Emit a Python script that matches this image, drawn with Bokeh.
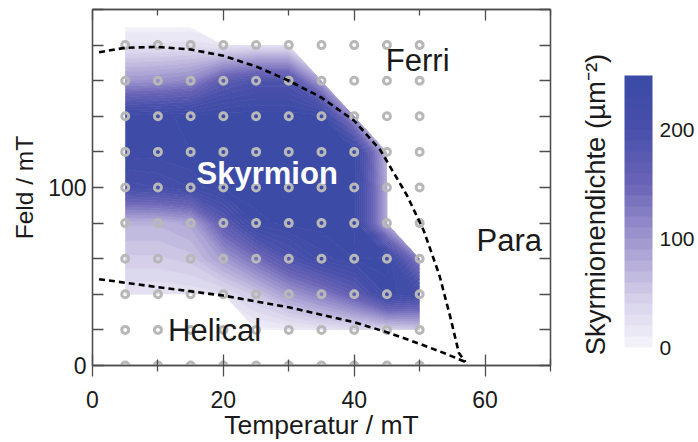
import numpy as np
from bokeh.plotting import figure
from bokeh.layouts import row
from bokeh.models import (Range1d, LinearAxis, FixedTicker, ColorBar,
                          LinearColorMapper, Label, ColumnDataSource)
from bokeh.core.properties import value
from bokeh.embed import file_html
from bokeh.resources import INLINE

N = np.nan

# ---------------- data ----------------
TEMPS = [5, 10, 15, 20, 25, 30, 35, 40, 45, 50]
GRID_FIELDS = [0, 20, 40, 60, 80, 100, 120, 140, 160, 180, 190]
# skyrmion density (µm^-2), rows = GRID_FIELDS, cols = TEMPS
DENSITY = [
    [N, N, N, N, N, N, N, N, N, N],                              # 0
    [N, N, N, N, 5, 10, 20, 30, 40, 50],                         # 20
    [20, 20, 22, 28, 55, 95, 125, 165, 235, 220],                # 40
    [48, 48, 55, 95, 140, 190, 225, 240, 245, 120],              # 60
    [72, 72, 85, 170, 235, 245, 245, 245, 80, N],                # 80
    [205, 210, 220, 245, 248, 248, 248, 245, 80, N],             # 100
    [235, 235, 240, 248, 248, 248, 248, 245, 70, N],             # 120
    [235, 238, 242, 248, 248, 248, 245, 100, N, N],              # 140
    [100, 105, 115, 170, 190, 190, 90, N, N, N],                 # 160
    [22, 22, 25, 20, 25, 25, N, N, N, N],                        # 180
    [6, 6, 6, N, N, N, N, N, N, N],                              # 190
]
MEAS_FIELDS = [0, 20, 40, 60, 80, 100, 120, 140, 160, 180]

UPPER_T = [1, 5, 10, 15, 20, 25, 30, 35, 40, 44, 48, 50.6, 53, 54.7, 56, 57]
UPPER_B = [176, 178.5, 179, 177.5, 174, 168, 160, 150.5, 137.5, 121, 96, 76, 51, 27, 7, 2]
LOWER_T = [1, 10, 20, 30, 40, 45, 50, 54, 57]
LOWER_B = [48.5, 44, 39.3, 32.7, 24.3, 18.7, 12.2, 6.6, 2]

REGION_NAMES = ["Ferri", "Para", "Helical"]
REGION_T = [49.7, 63.7, 18.65]
REGION_B = [171.5, 70.5, 19.9]
SKX_NAME = ["Skyrmion"]
SKX_T = [26.7]
SKX_B = [108.0]

X_MAJOR = [0, 20, 40, 60]
X_MINOR = [10, 30, 50, 70]
Y_MAJOR = [0, 100]
Y_MINOR = [20, 40, 60, 80, 120, 140, 160, 180, 200]
CB_TICKS = [0, 100, 200]
LEVELS = list(range(0, 251, 10))

# ---------------- colours ----------------
ANCHOR_V = [0, 50, 100, 150, 200, 250]
ANCHOR_C = ["#f6f5fb", "#d1cbe7", "#9e96ce", "#6b64b7", "#4850aa", "#3b4aa6"]


def _rgb(h):
    return np.array([int(h[i:i + 2], 16) for i in (1, 3, 5)], dtype=float)


def _interp(v):
    cs = np.array([_rgb(c) for c in ANCHOR_C])
    r = [np.interp(v, ANCHOR_V, cs[:, k]) for k in range(3)]
    return "#%02x%02x%02x" % tuple(int(round(c)) for c in r)


PALETTE = [_interp(l + 5) for l in LEVELS[:-1]]
LINE_COLORS = [_interp(l) for l in LEVELS]

FONT = "Liberation Sans"
AX = "#4d4d4d"
TXT = "#1a1a1a"

p = figure(width=560, height=442, x_range=Range1d(0, 70), y_range=Range1d(0, 200),
           x_axis_type=None, y_axis_type=None, output_backend="svg",
           toolbar_location=None, min_border_left=92, min_border_right=10,
           min_border_top=9, min_border_bottom=77)
p.outline_line_color = AX
p.outline_line_width = 1.3
p.background_fill_color = "white"


def style_axis(a):
    a.axis_line_color = AX
    a.axis_line_width = 1.3
    a.major_tick_line_color = AX
    a.minor_tick_line_color = AX
    a.major_tick_line_width = 1.3
    a.minor_tick_line_width = 1.3
    a.major_label_text_font = FONT
    a.major_label_text_color = TXT
    a.axis_label_text_font = FONT
    a.axis_label_text_color = TXT
    a.axis_label_text_font_style = "normal"


xb = LinearAxis(ticker=FixedTicker(ticks=X_MAJOR, minor_ticks=X_MINOR),
                major_tick_in=11, major_tick_out=11, minor_tick_in=6, minor_tick_out=6,
                major_label_standoff=14, axis_label="Temperatur / mT",
                axis_label_standoff=-1)
style_axis(xb)
xb.major_label_text_font_size = "23px"
xb.axis_label_text_font_size = "26.5px"
p.add_layout(xb, "below")

xt = LinearAxis(ticker=FixedTicker(ticks=X_MAJOR, minor_ticks=X_MINOR),
                major_tick_in=11, major_tick_out=0, minor_tick_in=6, minor_tick_out=0,
                major_label_standoff=0)
style_axis(xt)
xt.major_label_text_font_size = "1px"
xt.major_label_text_color = None
p.add_layout(xt, "above")

yl = LinearAxis(ticker=FixedTicker(ticks=Y_MAJOR, minor_ticks=Y_MINOR),
                major_tick_in=11, major_tick_out=0, minor_tick_in=11, minor_tick_out=0,
                major_label_standoff=6, axis_label="Feld / mT", axis_label_standoff=7)
style_axis(yl)
yl.major_label_text_font_size = "23px"
yl.axis_label_text_font_size = "24.5px"
p.add_layout(yl, "left")

yr = LinearAxis(ticker=FixedTicker(ticks=Y_MAJOR, minor_ticks=Y_MINOR),
                major_tick_in=11, major_tick_out=0, minor_tick_in=11, minor_tick_out=0,
                major_label_standoff=0)
style_axis(yr)
yr.major_label_text_font_size = "1px"
yr.major_label_text_color = None
p.add_layout(yr, "right")

# density contour
Z = np.array(DENSITY, dtype=float)
p.contour(TEMPS, GRID_FIELDS, Z, LEVELS, fill_color=PALETTE,
          line_color=LINE_COLORS, line_width=1)

# measurement points
TT, BB = np.meshgrid(TEMPS, MEAS_FIELDS)
p.scatter(TT.ravel(), BB.ravel(), marker="circle", size=7, fill_color=None,
          line_color="#b8b8b8", line_width=3)

# phase boundaries
p.line(UPPER_T, UPPER_B, line_color="black", line_width=2.6, line_dash="6 4")
p.line(LOWER_T, LOWER_B, line_color="black", line_width=2.6, line_dash="6 4")

# region labels
p.text(x="x", y="y", text="t",
       source=ColumnDataSource(dict(x=REGION_T, y=REGION_B, t=REGION_NAMES)),
       text_font=value(FONT), text_font_size="31px", text_color=TXT,
       text_align="center", text_baseline="middle")
p.text(x="x", y="y", text="t",
       source=ColumnDataSource(dict(x=SKX_T, y=SKX_B, t=SKX_NAME)),
       text_font=value(FONT), text_font_size="31px", text_font_style="bold",
       text_color="white", text_align="center", text_baseline="middle")

# ---------------- colour bar panel ----------------
p2 = figure(width=138, height=442, x_range=Range1d(0, 1), y_range=Range1d(0, 1),
            x_axis_type=None, y_axis_type=None, output_backend="svg",
            toolbar_location=None, min_border=0)
p2.outline_line_color = None
p2.background_fill_color = "white"

mapper = LinearColorMapper(palette=PALETTE, low=LEVELS[0], high=LEVELS[-1])
cb = ColorBar(color_mapper=mapper, ticker=FixedTicker(ticks=CB_TICKS),
              width=28, height=272, location=(64, 18), padding=0, margin=0,
              major_tick_line_color=None, bar_line_color=None,
              border_line_color=None, background_fill_alpha=0,
              major_label_text_font=FONT, major_label_text_font_size="21px",
              major_label_text_color=TXT, label_standoff=7)
p2.add_layout(cb, "center")

p2.add_layout(Label(x=34.5, y=161, x_units="screen", y_units="screen",
                    text="Skyrmionendichte (µm⁻²)", angle=90, angle_units="deg",
                    text_font=FONT, text_font_size="27.5px", text_color=TXT,
                    text_align="center", text_baseline="middle"))

layout = row(p, p2, spacing=0)
open("out.html", "w").write(file_html(layout, INLINE))
